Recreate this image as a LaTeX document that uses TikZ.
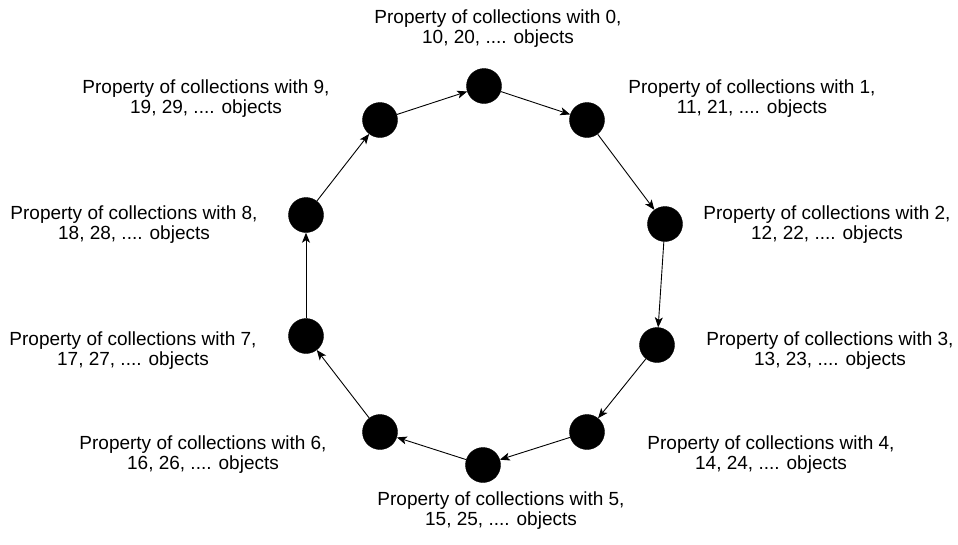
\documentclass[tikz,border=0pt]{standalone}
\usepackage{fontspec}
\setmainfont{Liberation Sans}
\usetikzlibrary{arrows.meta}
\begin{document}
\begin{tikzpicture}[x=1pt,y=-1pt,
  dot/.style={circle,fill=black,draw=black,minimum size=35pt,inner sep=0pt},
  lbl/.style={align=center,inner sep=0pt,font=\fontsize{19}{20.5}\selectfont},
  link/.style={-{Stealth[length=10pt,width=8pt,inset=2.5pt]},line width=0.9pt}]
\useasboundingbox (0,0) rectangle (958,544);
% nodes
\node[dot] (n0) at (484,86) {};
\node[dot] (n1) at (587,120) {};
\node[dot] (n2) at (665,224) {};
\node[dot] (n3) at (657,345) {};
\node[dot] (n4) at (587,432) {};
\node[dot] (n5) at (483,465) {};
\node[dot] (n6) at (380,432) {};
\node[dot] (n7) at (306,336) {};
\node[dot] (n8) at (306,215) {};
\node[dot] (n9) at (380,120) {};
% connectors
\draw[link] (n0) -- (n1);
\draw[link] (n1) -- (n2);
\draw[link] (n2) -- (n3);
\draw[link] (n3) -- (n4);
\draw[link] (n4) -- (n5);
\draw[link] (n5) -- (n6);
\draw[link] (n6) -- (n7);
\draw[link] (n7) -- (n8);
\draw[link] (n8) -- (n9);
\draw[link] (n9) -- (n0);
% labels
\node[lbl] (l0) at (498,28.5) {Property of collections with 0,\\10, 20, .... objects};
\node[lbl] (l1) at (752,98.5) {Property of collections with 1,\\11, 21, .... objects};
\node[lbl] (l2) at (827,224.5) {Property of collections with 2,\\12, 22, .... objects};
\node[lbl] (l3) at (830,350.5) {Property of collections with 3,\\13, 23, .... objects};
\node[lbl] (l4) at (771,454.5) {Property of collections with 4,\\14, 24, .... objects};
\node[lbl] (l5) at (501,510.5) {Property of collections with 5,\\15, 25, .... objects};
\node[lbl] (l6) at (203,454.5) {Property of collections with 6,\\16, 26, .... objects};
\node[lbl] (l7) at (133,350.5) {Property of collections with 7,\\17, 27, .... objects};
\node[lbl] (l8) at (134,224.5) {Property of collections with 8,\\18, 28, .... objects};
\node[lbl] (l9) at (206,98.5) {Property of collections with 9,\\19, 29, .... objects};
\end{tikzpicture}
\end{document}
